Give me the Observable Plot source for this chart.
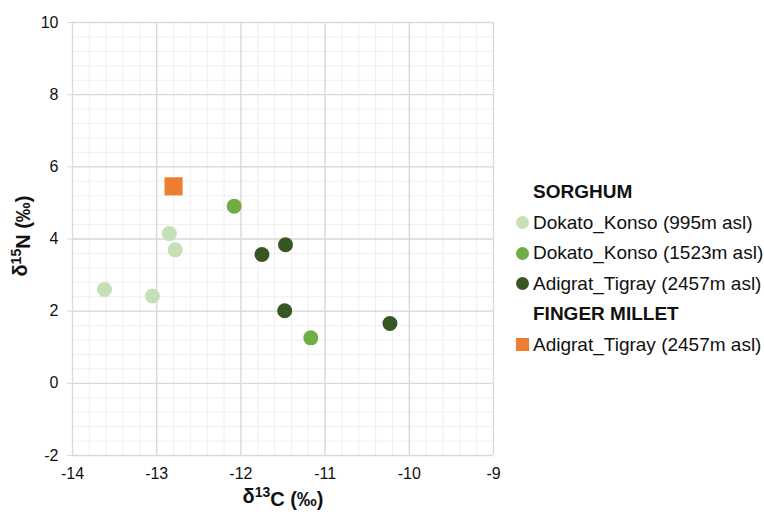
<!DOCTYPE html>
<html>
<head>
<meta charset="utf-8">
<script src="https://cdn.jsdelivr.net/npm/d3@7"></script>
<script src="https://cdn.jsdelivr.net/npm/@observablehq/plot@0.6"></script>
<style>
  body { margin: 0; background: #fff; }
  #wrap { position: relative; width: 764px; height: 512px; font-family: "Liberation Sans", Arial, sans-serif; }
  #legend { position: absolute; left: 516px; top: 177px; font-size: 19px; color: #111; }
  .row { height: 30.5px; display: flex; align-items: center; white-space: nowrap; }
  .head { font-weight: bold; padding-left: 17px; }
  .mk { width: 13px; height: 13px; margin-right: 4px; flex: none; }
</style>
</head>
<body>
<div id="wrap"></div>
<script>
// Sorghum, Dokato_Konso (995m asl)
const konso995X = [-13.62, -13.05, -12.85, -12.78];
const konso995Y = [2.60, 2.42, 4.15, 3.70];
// Sorghum, Dokato_Konso (1523m asl)
const konso1523X = [-12.08, -11.17];
const konso1523Y = [4.91, 1.26];
// Sorghum, Adigrat_Tigray (2457m asl)
const tigrayX = [-11.75, -11.47, -11.48, -10.23];
const tigrayY = [3.57, 3.84, 2.01, 1.66];
// Finger millet, Adigrat_Tigray (2457m asl)
const milletX = [-12.80];
const milletY = [5.46];

const seriesNames = ["Dokato_Konso (995m asl)", "Dokato_Konso (1523m asl)", "Adigrat_Tigray (2457m asl)", "Adigrat_Tigray (2457m asl)"];
const groupNames = ["SORGHUM", "FINGER MILLET"];
const colors = ["#c5e0b4", "#70ad47", "#375623", "#ed7d31"];
const xLabel = ["δ", "13", "C (‰)"];
const yLabel = ["δ", "15", "N (‰)"];

const xTicks = [-14, -13, -12, -11, -10, -9];
const yTicks = [-2, 0, 2, 4, 6, 8, 10];
const xMinor = d3.range(-14, -9.001, 0.2);
const yMinor = d3.range(-2, 10.001, 0.4);

const toRows = (xs, ys) => xs.map((x, i) => ({x, y: ys[i]}));

const chart = Plot.plot({
  width: 764, height: 512,
  marginLeft: 72, marginRight: 271, marginTop: 22, marginBottom: 57,
  x: {domain: [-14, -9]},
  y: {domain: [-2, 10]},
  style: {fontFamily: "'Liberation Sans', Arial, sans-serif", fontSize: "16px", color: "#111", background: "#fff"},
  marks: [
    Plot.gridX(xMinor, {stroke: "#efefef", strokeOpacity: 1}),
    Plot.gridY(yMinor, {stroke: "#efefef", strokeOpacity: 1}),
    Plot.gridX(xTicks, {stroke: "#d9d9d9", strokeOpacity: 1, strokeWidth: 1.3}),
    Plot.gridY(yTicks, {stroke: "#d9d9d9", strokeOpacity: 1, strokeWidth: 1.3}),
    Plot.axisY(yTicks, {tickSize: 5, tickPadding: 9, stroke: "#d9d9d9", fill: "#111", label: null, tickFormat: d => String(d)}),
    Plot.axisX(xTicks, {tickSize: 0, tickPadding: 12, fill: "#111", label: null, tickFormat: d => String(d)}),
    Plot.text([xLabel.join("")], {frameAnchor: "bottom", textAnchor: "middle", lineAnchor: "middle", dy: 41, fill: "#111"}),
    Plot.text([yLabel.join("")], {frameAnchor: "left", textAnchor: "middle", lineAnchor: "middle", dx: -52, dy: -3, rotate: -90, fill: "#111"}),
    Plot.dot(toRows(konso995X, konso995Y), {x: "x", y: "y", r: 7.5, fill: colors[0]}),
    Plot.dot(toRows(konso1523X, konso1523Y), {x: "x", y: "y", r: 7.5, fill: colors[1]}),
    Plot.dot(toRows(tigrayX, tigrayY), {x: "x", y: "y", r: 7.5, fill: colors[2]}),
    Plot.dot(toRows(milletX, milletY), {x: "x", y: "y", r: 10.2, symbol: "square", fill: colors[3]})
  ]
});

// font sizes and real superscripts in the axis titles
d3.select(chart).selectAll("g").each(function() {
  if (this.getAttribute("font-size")) this.setAttribute("font-size", "16");
});
d3.select(chart).selectAll("text").each(function() {
  const t = this.textContent;
  const parts = t === xLabel.join("") ? xLabel : t === yLabel.join("") ? yLabel : null;
  if (!parts) { this.setAttribute("font-size", "16"); return; }
  const sel = d3.select(this);
  sel.attr("font-size", 20).attr("font-weight", "bold");
  sel.text(null);
  sel.append("tspan").text(parts[0]);
  sel.append("tspan").attr("font-size", 14).attr("dy", "-0.45em").text(parts[1]);
  sel.append("tspan").attr("dy", "0.45em").text(parts[2]);
});

const wrap = document.getElementById("wrap");
wrap.appendChild(chart);

const legend = document.createElement("div");
legend.id = "legend";
const addHead = t => { const d = document.createElement("div"); d.className = "row head"; d.textContent = t; legend.appendChild(d); };
const addItem = (i, shape) => {
  const d = document.createElement("div"); d.className = "row";
  const m = document.createElement("span"); m.className = "mk";
  m.style.background = colors[i];
  if (shape === "circle") m.style.borderRadius = "50%";
  const t = document.createElement("span"); t.textContent = seriesNames[i];
  d.appendChild(m); d.appendChild(t); legend.appendChild(d);
};
addHead(groupNames[0]);
addItem(0, "circle"); addItem(1, "circle"); addItem(2, "circle");
addHead(groupNames[1]);
addItem(3, "square");
wrap.appendChild(legend);
</script>
</body>
</html>
